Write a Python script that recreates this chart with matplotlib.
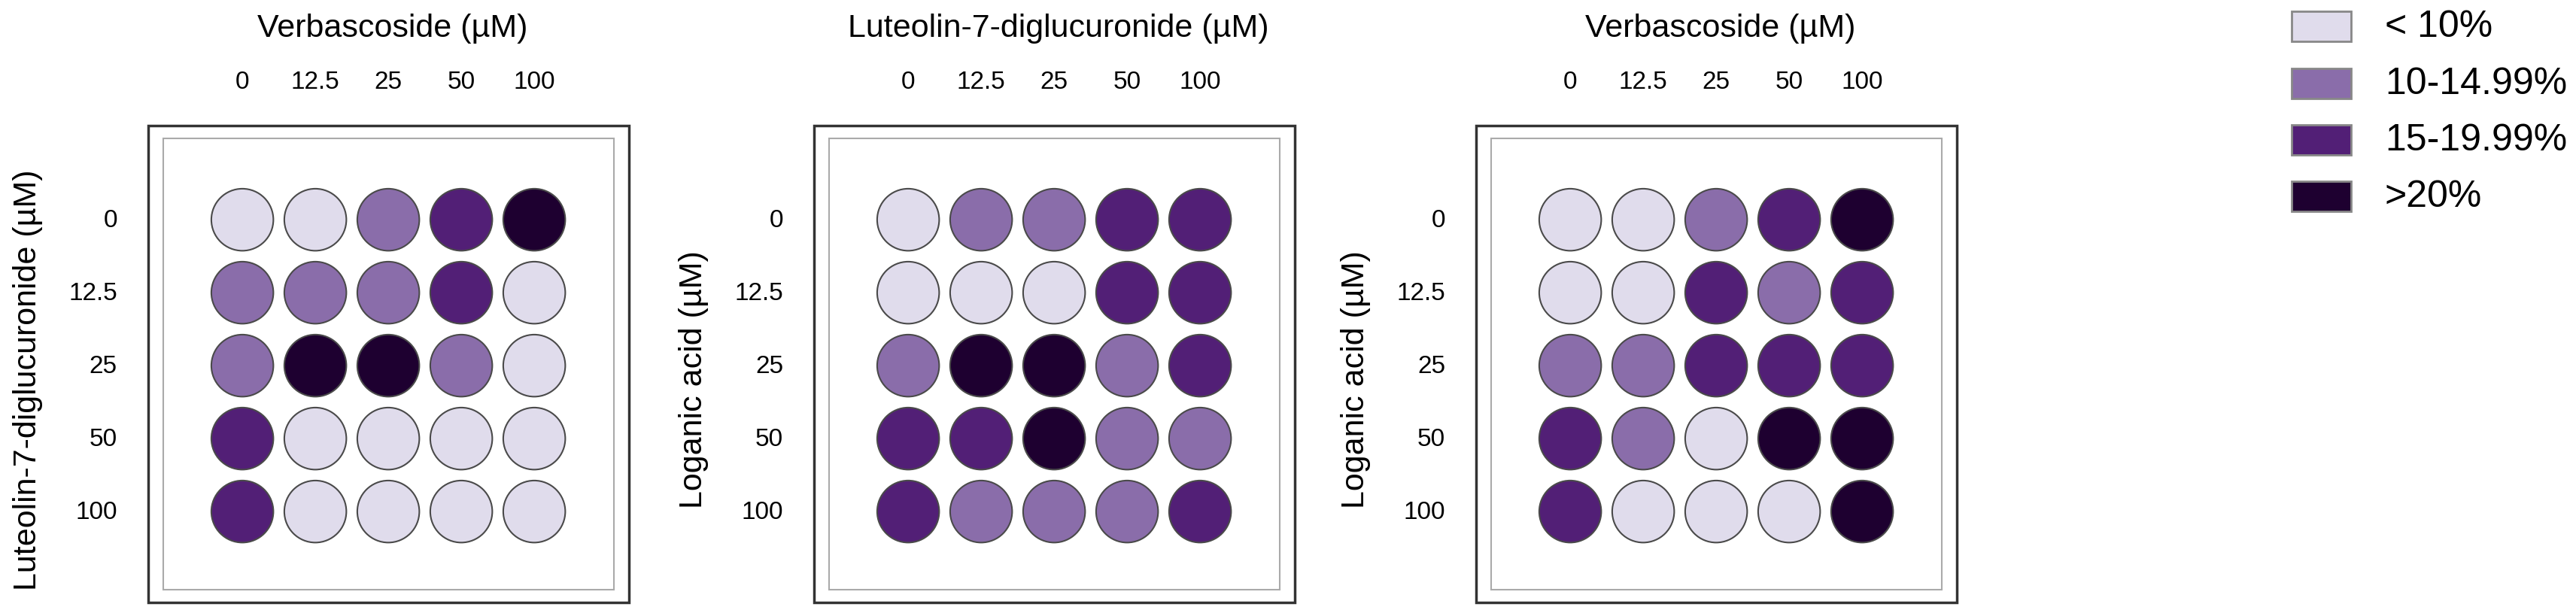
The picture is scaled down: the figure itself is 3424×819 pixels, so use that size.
import matplotlib
matplotlib.use("Agg")
import matplotlib.pyplot as plt
from matplotlib.patches import Circle, Rectangle
import matplotlib.transforms as mtransforms

plt.rcParams['font.family'] = ['Liberation Sans', 'DejaVu Sans']

conc = ["0", "12.5", "25", "50", "100"]
categories = ["< 10%", "10-14.99%", "15-19.99%", ">20%"]
colors = ["#e0dcec", "#8a6daa", "#521f76", "#1e0030"]

x_titles = ["Verbascoside (\u00b5M)", "Luteolin-7-diglucuronide (\u00b5M)", "Verbascoside (\u00b5M)"]
y_titles = ["Luteolin-7-diglucuronide (\u00b5M)", "Loganic acid (\u00b5M)", "Loganic acid (\u00b5M)"]

# category index per cell (rows = y concentration, cols = x concentration)
panel1 = [[0, 0, 1, 2, 3],
          [1, 1, 1, 2, 0],
          [1, 3, 3, 1, 0],
          [2, 0, 0, 0, 0],
          [2, 0, 0, 0, 0]]
panel2 = [[0, 1, 1, 2, 2],
          [0, 0, 0, 2, 2],
          [1, 3, 3, 1, 2],
          [2, 2, 3, 1, 1],
          [2, 1, 1, 1, 2]]
panel3 = [[0, 0, 1, 2, 3],
          [0, 0, 2, 1, 2],
          [1, 1, 2, 2, 2],
          [2, 1, 0, 3, 3],
          [2, 0, 0, 0, 3]]
panels = [panel1, panel2, panel3]

W, H = 3424, 820
fig = plt.figure(figsize=(W / 100, H / 100), dpi=100)

spacing = 97.0
lefts = [197, 1082, 1962]
fw, fh, ftop = 639, 634, 168

for p, grid in enumerate(panels):
    L = lefts[p]
    ax = fig.add_axes([L / W, 1 - (ftop + fh) / H, fw / W, fh / H])
    x0 = 1.29
    ax.set_xlim(-x0, fw / spacing - x0)
    ax.set_ylim(fh / spacing - x0, -x0)
    ax.set_axis_off()
    ax.add_patch(Rectangle((0, 0), 1, 1, transform=ax.transAxes, fill=False,
                           edgecolor="#333333", linewidth=2.5, clip_on=False))
    ax.add_patch(Rectangle((0.031, 0.027), 0.938, 0.946, transform=ax.transAxes,
                           fill=False, edgecolor="#aaaaaa", linewidth=1.5, clip_on=False))
    for r in range(5):
        for c in range(5):
            ax.add_patch(Circle((c, r), 0.425, facecolor=colors[grid[r][c]],
                                edgecolor="#4a4a4a", linewidth=1.5))
    tx = mtransforms.blended_transform_factory(ax.transData, fig.transFigure)
    for c, lab in enumerate(conc):
        ax.text(c, 1 - 110 / H, lab, transform=tx, ha="center", va="center", fontsize=24)
    ty = mtransforms.blended_transform_factory(fig.transFigure, ax.transData)
    for r, lab in enumerate(conc):
        ax.text((L - 41) / W, r, lab, transform=ty, ha="right", va="center", fontsize=24)
    ax.text((L + fw / 2 + 5) / W, 1 - 38 / H, x_titles[p], transform=fig.transFigure,
            ha="center", va="center", fontsize=31)
    ax.text((L - 160) / W, 1 - (ftop + fh / 2 + 20) / H, y_titles[p], transform=fig.transFigure,
            ha="center", va="center", rotation=90, fontsize=31)

# legend
box_tops = [16, 92, 167, 242]
for i, (lab, col) in enumerate(zip(categories, colors)):
    fig.patches.append(Rectangle((3046 / W, 1 - (box_tops[i] + 40) / H), 79 / W, 40 / H,
                                 transform=fig.transFigure, facecolor=col,
                                 edgecolor="#888888", linewidth=2))
    fig.text(3170 / W, 1 - (box_tops[i] + 20) / H, lab, ha="left", va="center", fontsize=36)

fig.savefig("out.png", dpi=100)
